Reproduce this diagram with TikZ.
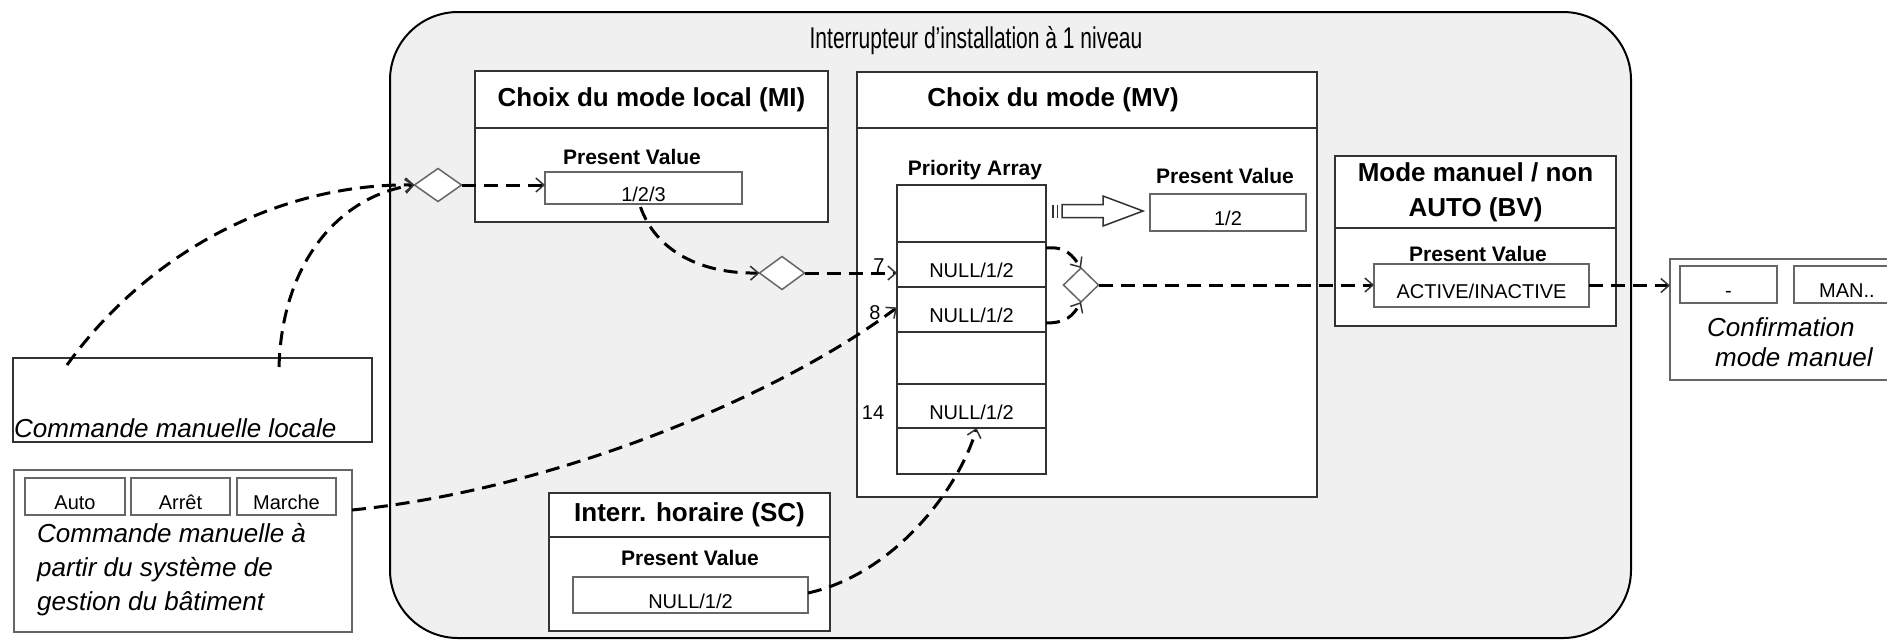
\documentclass[tikz,border=0pt]{standalone}
\usepackage{fontspec}
\setmainfont{Liberation Sans}
\newfontfamily\narrowfont{Liberation Sans}[FakeStretch=0.7]
\usetikzlibrary{shapes.geometric,arrows.meta,calc}
\definecolor{bg}{HTML}{F0F0F0}
\definecolor{edge}{HTML}{333333}
\definecolor{vedge}{HTML}{666666}
\newcommand{\vt}[1]{\raisebox{-13pt}[0pt][0pt]{#1}}
\begin{document}
\begin{tikzpicture}[x=1pt,y=-1pt,
  box/.style={draw=edge, line width=2pt, fill=white, inner sep=0pt, outer sep=0pt},
  vbox/.style={draw=vedge, line width=1.5pt, fill=white, inner sep=0pt, outer sep=0pt, font=\fontsize{20}{24}\selectfont},
  hdr/.style={box, font=\bfseries\fontsize{26}{35}\selectfont, align=center},
  pvlab/.style={font=\bfseries\fontsize{21}{24}\selectfont, inner sep=0pt},
  num/.style={font=\fontsize{20}{24}\selectfont, inner sep=0pt},
  ital/.style={font=\itshape\fontsize{26}{30}\selectfont, inner sep=0pt},
  dia/.style={diamond, draw=vedge, line width=1.5pt, fill=white, inner sep=0pt, outer sep=0pt},
  conn/.style={line width=3pt, dash pattern=on 14pt off 8pt, -{Straight Barb[length=8pt,width=14pt,line width=1.5pt,color=edge]}},
]
\useasboundingbox (0,0) rectangle (1887,641);
\clip (0,0) rectangle (1887,641);

% main rounded container
\node[draw=black, line width=2pt, fill=bg, rounded corners=68pt, minimum width=1241pt, minimum height=626pt, inner sep=0pt] (main) at (1010.5,325) {};
\node[font=\narrowfont\fontsize{30}{34}\selectfont, anchor=base, inner sep=0pt] (title) at (976,48) {Interrupteur d’installation à 1 niveau};

% Choix du mode local (MI)
\node[hdr, minimum width=353pt, minimum height=57pt] (mihd) at (651.5,99.5) {Choix du mode local (MI)};
\node[box, minimum width=353pt, minimum height=94pt] (mibd) at (651.5,175) {};
\node[pvlab] (mipv) at (632,157) {Present Value};
\node[vbox, minimum width=197pt, minimum height=32pt] (miv) at (643.5,188) {\vt{1/2/3}};
\node[dia, minimum width=47pt, minimum height=33pt] (d1) at (438,185) {};

% Choix du mode (MV)
\node[hdr, minimum width=460pt, minimum height=56pt] (mvhd) at (1087,100) {Choix du mode (MV)\hspace*{68pt}};
\node[box, minimum width=460pt, minimum height=369pt] (mvbd) at (1087,312.5) {};
\node[pvlab] (pa) at (975,170) {Priority Array};
\node[box, minimum width=149pt, minimum height=57pt] (r0) at (971.5,213.5) {};
\node[box, vbox, draw=edge, minimum width=149pt, minimum height=45pt] (r7) at (971.5,264.5) {\vt{NULL/1/2}};
\node[box, vbox, draw=edge, minimum width=149pt, minimum height=45pt] (r8) at (971.5,309.5) {\vt{NULL/1/2}};
\node[box, minimum width=149pt, minimum height=52pt] (r9) at (971.5,358) {};
\node[box, vbox, draw=edge, minimum width=149pt, minimum height=44pt] (r14) at (971.5,406) {\vt{NULL/1/2}};
\node[box, minimum width=149pt, minimum height=46pt] (r15) at (971.5,451) {};
\node[num] (n7) at (879,266) {7};
\node[num] (n8) at (875,313) {8};
\node[num] (n14) at (873,413) {14};
\node[pvlab] (mvpv) at (1225,176) {Present Value};
\node[vbox, minimum width=156pt, minimum height=37pt] (mvv) at (1228,212.5) {\vt{1/2}};
% hollow arrow
\draw[edge, line width=1.5pt] (1053,204.5) -- (1053,217.5) (1057.5,204.5) -- (1057.5,217.5);
\draw[draw=edge, line width=1.5pt, fill=white] (1062,204.5) -- (1103,204.5) -- (1103,196) -- (1143,211) -- (1103,226) -- (1103,217.5) -- (1062,217.5) -- cycle;
\node[dia, minimum width=45pt, minimum height=33pt] (d2) at (782,273) {};
\node[dia, minimum width=35pt, minimum height=34pt] (d3) at (1081,285) {};

% Interr. horaire (SC)
\node[hdr, minimum width=281pt, minimum height=44pt] (schd) at (689.5,515) {Interr. horaire (SC)};
\node[box, minimum width=281pt, minimum height=94pt] (scbd) at (689.5,584) {};
\node[pvlab] (scpv) at (690,558) {Present Value};
\node[vbox, minimum width=235pt, minimum height=36pt] (scv) at (690.5,595) {\vt{NULL/1/2}};

% Mode manuel / non AUTO (BV)
\node[hdr, minimum width=281pt, minimum height=72pt] (bvhd) at (1475.5,192) {Mode manuel / non\\AUTO (BV)};
\node[box, minimum width=281pt, minimum height=98pt] (bvbd) at (1475.5,277) {};
\node[pvlab] (bvpv) at (1478,254) {Present Value};
\node[vbox, minimum width=215pt, minimum height=43pt] (av) at (1481.5,285.5) {\vt{ACTIVE/INACTIVE}};

% left boxes
\node[box, draw=edge, line width=1.8pt, minimum width=359pt, minimum height=84pt] (loc) at (192.5,400) {};
\node[ital, anchor=base west] (loctxt) at ($(loc.south west)+(1,-5)$) {Commande manuelle locale};
\node[vbox, minimum width=338pt, minimum height=162pt] (bms) at (183,551) {};
\node[vbox, minimum width=100pt, minimum height=37pt] (bauto) at (75,496.5) {\vt{Auto}};
\node[vbox, minimum width=99pt, minimum height=37pt] (barret) at (180.5,496.5) {\vt{Arrêt}};
\node[vbox, minimum width=99pt, minimum height=37pt] (bmarche) at (286.5,496.5) {\vt{Marche}};
\node[ital, anchor=north west, align=left, font=\itshape\fontsize{26}{34}\selectfont] (bmstxt) at (37,523) {Commande manuelle à\\partir du système de\\gestion du bâtiment};

% right box
\node[box, draw=vedge, minimum width=220pt, minimum height=121pt] (conf) at (1780,319.5) {};
\node[vbox, minimum width=97pt, minimum height=37pt] (bdash) at (1728.5,284.5) {\vt{-}};
\node[vbox, minimum width=106pt, minimum height=37pt] (bman) at (1847,284.5) {\vt{MAN..}};
\node[ital, anchor=north west, align=left] (conftxt) at (1707,317) {Confirmation\\\hspace*{8pt}mode manuel};

% connectors
\draw[conn] ($(loc.north west)+(54,7)$) .. controls +(83,-115) and +(-133,-2) .. (d1.west);
\draw[conn] ($(loc.north west)+(266,9)$) .. controls +(3,-107) and +(-73,10) .. (d1.west);
\draw[conn] (d1.east) -- (d1.east -| miv.west);
\draw[conn] ($(miv.south)+(-3,3)$) .. controls +(15,43) and +(-60,1) .. (d2.west);
\draw[conn] (d2.east) -- (d2.east -| r7.west);
\draw[conn] ($(bms.east)+(0,-41)$) .. controls +(200,-20) and +(-120,90) .. ($(r8.west)+(0,-2)$);
\draw[conn] ($(scv.east)+(0,-2)$) .. controls +(90,-20) and +(-15,55) .. ($(r14.south)+(5,0)$);
\draw[conn] ($(r7.north east)+(0,6)$) .. controls +(20,-2) and +(-8,-12) .. (d3.north);
\draw[conn] ($(r8.south east)+(0,-9)$) .. controls +(20,0) and +(-8,14) .. (d3.south);
\draw[conn] (d3.east) -- (d3.east -| av.west);
\draw[conn] (av.east) -- (av.east -| conf.west);
\end{tikzpicture}
\end{document}
